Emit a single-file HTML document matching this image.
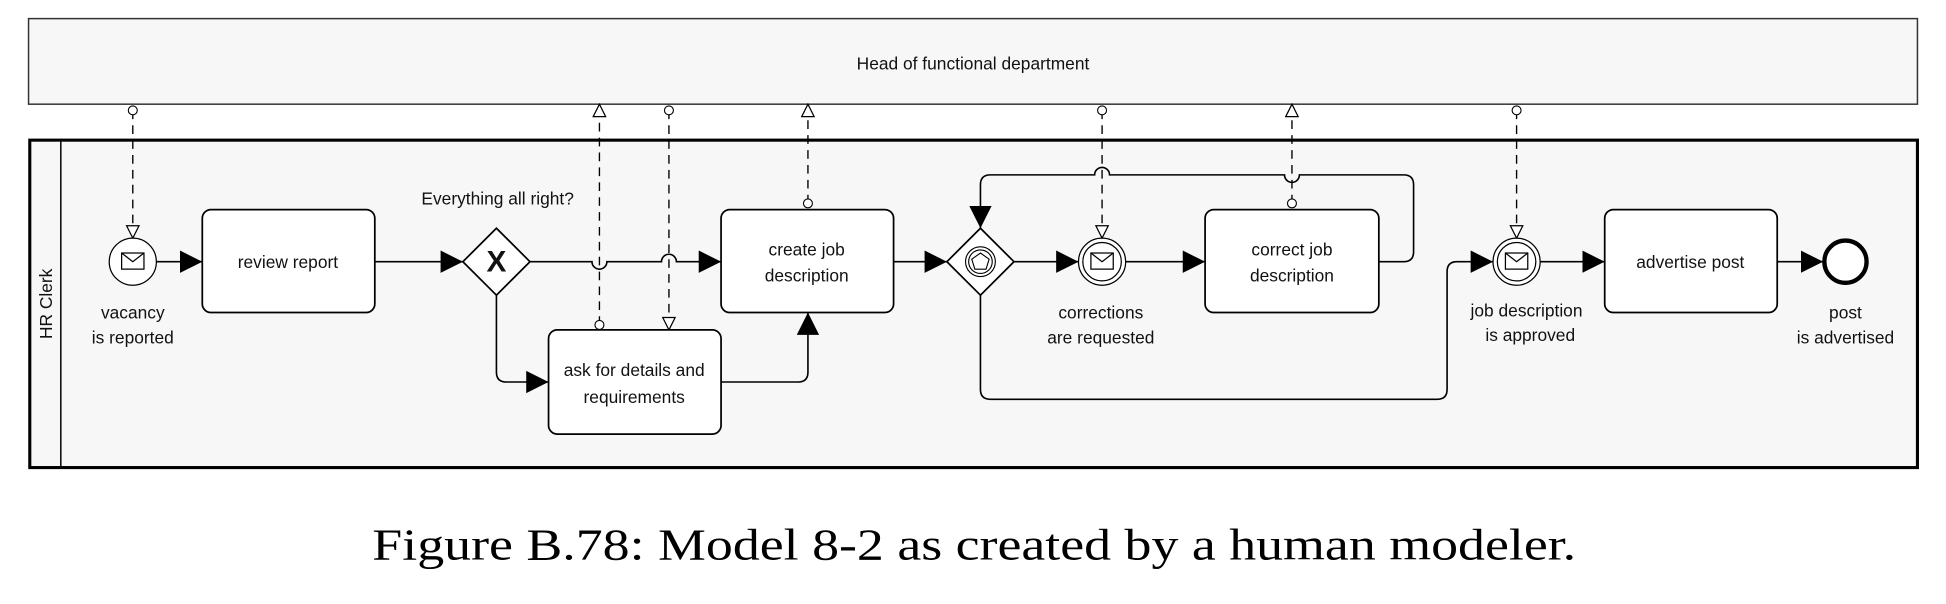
<!DOCTYPE html>
<html><head><meta charset="utf-8"><style>
html,body{margin:0;padding:0;background:#fff;}
svg{display:block;}
text{font-family:"Liberation Sans",sans-serif;font-size:14px;fill:#111;}
</style></head><body>
<svg width="1946" height="604" viewBox="0 0 1568 487" preserveAspectRatio="none" xmlns="http://www.w3.org/2000/svg">
<defs>
<marker id="f" viewBox="0 0 10 10" refX="10" refY="5" markerWidth="9" markerHeight="9" markerUnits="userSpaceOnUse" orient="auto"><path d="M0,0 L10,5 L0,10z" fill="#000"/></marker>
<marker id="fb" viewBox="0 0 10 10" refX="10" refY="5" markerWidth="18" markerHeight="18" markerUnits="userSpaceOnUse" orient="auto"><path d="M0,0 L10,5 L0,10z" fill="#000"/></marker>
<marker id="o" viewBox="0 0 12 12" refX="11" refY="6" markerWidth="12" markerHeight="12" markerUnits="userSpaceOnUse" orient="auto"><path d="M1,1 L11,6 L1,11z" fill="#fff" stroke="#000" stroke-width="1"/></marker>
<marker id="c" viewBox="0 0 10 10" refX="5" refY="5" markerWidth="9" markerHeight="9" markerUnits="userSpaceOnUse"><circle cx="5" cy="5" r="4" fill="#fff" stroke="#000" stroke-width="1"/></marker>
</defs>
<rect x="0" y="0" width="1568" height="487" fill="#fff"/>
<!-- top pool -->
<rect x="23" y="15" width="1522" height="69" fill="#f7f7f7" stroke="#333" stroke-width="1.2"/>
<text x="784" y="56" text-anchor="middle">Head of functional department</text>
<!-- lane pool -->
<rect x="24" y="113" width="1521" height="264" fill="#f7f7f7" stroke="#000" stroke-width="2.5"/>
<line x1="49" y1="113" x2="49" y2="377" stroke="#000" stroke-width="1.2"/>
<text x="0" y="0" text-anchor="middle" transform="translate(42,245) rotate(-90)">HR Clerk</text>

<g fill="none" stroke="#000" stroke-width="1.3">
<!-- sequence flows -->
<line x1="126" y1="211" x2="163" y2="211" marker-end="url(#fb)"/>
<line x1="302" y1="211" x2="373" y2="211" marker-end="url(#fb)"/>
<path d="M427,211 H477 a6,6 0 0 0 12,0 H533 a6,6 0 0 1 12,0 H581" marker-end="url(#fb)"/>
<path d="M400,238 V300 q0,8 8,8 H442" marker-end="url(#fb)"/>
<path d="M581,308 H643 q8,0 8,-8 V252" marker-end="url(#fb)"/>
<line x1="720" y1="211" x2="763" y2="211" marker-end="url(#fb)"/>
<line x1="817" y1="211" x2="869" y2="211" marker-end="url(#fb)"/>
<line x1="907" y1="211" x2="971" y2="211" marker-end="url(#fb)"/>
<path d="M1111,211 H1131 q8,0 8,-8 V149 q0,-8 -8,-8 H1047 a6,6 0 0 1 -12,0 H894 a6,6 0 0 0 -12,0 H798 q-8,0 -8,8 V184" marker-end="url(#fb)"/>
<path d="M790,238 V314 q0,8 8,8 H1158 q8,0 8,-8 V219 q0,-8 8,-8 H1203" marker-end="url(#fb)"/>
<line x1="1241" y1="211" x2="1293" y2="211" marker-end="url(#fb)"/>
<line x1="1432" y1="211" x2="1469" y2="211" marker-end="url(#fb)"/>
</g>
<!-- message flows -->
<g fill="none" stroke="#000" stroke-width="1.1" stroke-dasharray="7,5">
<line x1="107" y1="89" x2="107" y2="192" marker-start="url(#c)" marker-end="url(#o)"/>
<line x1="483" y1="262" x2="483" y2="84" marker-start="url(#c)" marker-end="url(#o)"/>
<line x1="539" y1="89" x2="539" y2="266" marker-start="url(#c)" marker-end="url(#o)"/>
<line x1="651" y1="164" x2="651" y2="84" marker-start="url(#c)" marker-end="url(#o)"/>
<line x1="888" y1="89" x2="888" y2="192" marker-start="url(#c)" marker-end="url(#o)"/>
<line x1="1041" y1="164" x2="1041" y2="84" marker-start="url(#c)" marker-end="url(#o)"/>
<line x1="1222" y1="89" x2="1222" y2="192" marker-start="url(#c)" marker-end="url(#o)"/>
</g>

<!-- tasks -->
<g fill="#fff" stroke="#000" stroke-width="1.4">
<rect x="163" y="169" width="139" height="83" rx="7"/>
<rect x="581" y="169" width="139" height="83" rx="7"/>
<rect x="442" y="266" width="139" height="84" rx="7"/>
<rect x="971" y="169" width="140" height="83" rx="7"/>
<rect x="1293" y="169" width="139" height="83" rx="7"/>
</g>
<text x="232" y="216" text-anchor="middle">review report</text>
<text x="650" y="206" text-anchor="middle">create job</text>
<text x="650" y="227" text-anchor="middle">description</text>
<text x="511" y="303" text-anchor="middle">ask for details and</text>
<text x="511" y="325" text-anchor="middle">requirements</text>
<text x="1041" y="206" text-anchor="middle">correct job</text>
<text x="1041" y="227" text-anchor="middle">description</text>
<text x="1362" y="216" text-anchor="middle">advertise post</text>

<!-- start event -->
<circle cx="107" cy="211" r="19" fill="#fff" stroke="#000" stroke-width="1"/>
<g fill="none" stroke="#000" stroke-width="1"><rect x="98" y="204" width="18" height="13"/><path d="M98,204 L107,211 L116,204"/></g>
<text x="107" y="257" text-anchor="middle">vacancy</text>
<text x="107" y="277" text-anchor="middle">is reported</text>

<!-- XOR gateway -->
<path d="M400,184 L427,211 L400,238 L373,211z" fill="#fff" stroke="#000" stroke-width="1.4"/>
<text x="400" y="219" text-anchor="middle" style="font-size:24px;font-weight:bold">X</text>
<text x="401" y="165" text-anchor="middle">Everything all right?</text>

<!-- event gateway -->
<path d="M790,184 L817,211 L790,238 L763,211z" fill="#fff" stroke="#000" stroke-width="1.4"/>
<circle cx="790" cy="211" r="12" fill="none" stroke="#000" stroke-width="0.9"/>
<circle cx="790" cy="211" r="9.5" fill="none" stroke="#000" stroke-width="0.9"/>
<path d="M790,204 L797,209 L794.5,217 L785.5,217 L783,209z" fill="none" stroke="#000" stroke-width="0.9"/>

<!-- intermediate events -->
<g>
<circle cx="888" cy="211" r="19" fill="#fff" stroke="#000" stroke-width="1"/>
<circle cx="888" cy="211" r="15.5" fill="none" stroke="#000" stroke-width="1"/>
<g fill="none" stroke="#000" stroke-width="1"><rect x="879" y="204" width="18" height="13"/><path d="M879,204 L888,211 L897,204"/></g>
<circle cx="1222" cy="211" r="19" fill="#fff" stroke="#000" stroke-width="1"/>
<circle cx="1222" cy="211" r="15.5" fill="none" stroke="#000" stroke-width="1"/>
<g fill="none" stroke="#000" stroke-width="1"><rect x="1213" y="204" width="18" height="13"/><path d="M1213,204 L1222,211 L1231,204"/></g>
</g>
<text x="887" y="257" text-anchor="middle">corrections</text>
<text x="887" y="277" text-anchor="middle">are requested</text>
<text x="1230" y="255" text-anchor="middle">job description</text>
<text x="1233" y="275" text-anchor="middle">is approved</text>

<!-- end event -->
<circle cx="1487" cy="211" r="17" fill="#fff" stroke="#000" stroke-width="3.5"/>
<text x="1487" y="257" text-anchor="middle">post</text>
<text x="1487" y="277" text-anchor="middle">is advertised</text>

<!-- caption -->
<text x="300" y="451" textLength="970" lengthAdjust="spacingAndGlyphs" style="font-family:'Liberation Serif',serif;font-size:36px;fill:#000">Figure B.78: Model 8-2 as created by a human modeler.</text>
</svg>
</body></html>
